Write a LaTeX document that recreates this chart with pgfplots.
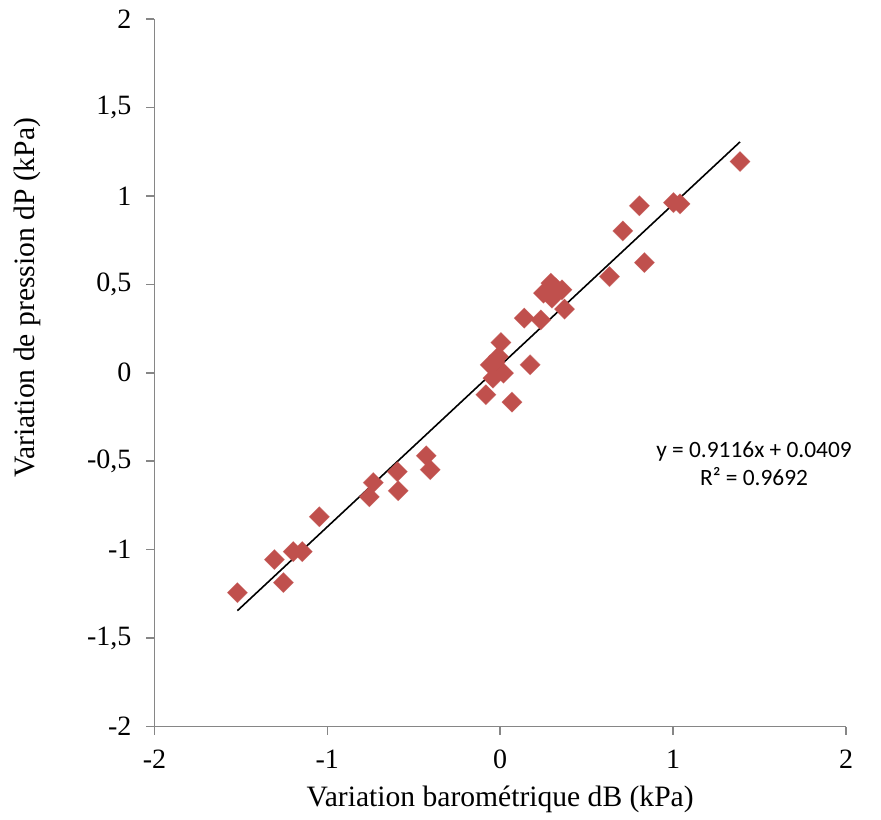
\documentclass[border=0pt]{standalone}
\usepackage{fontspec}
\setmainfont{Liberation Serif}
\newfontfamily\calibri{Carlito}
\usepackage{pgfplots}
\pgfplotsset{compat=1.18}
\definecolor{excelred}{HTML}{C0504D}
\definecolor{axgray}{HTML}{868686}
\begin{document}
\begin{tikzpicture}
\begin{axis}[
  name=ax,
  scale only axis,
  width=346pt, height=354pt,
  xmin=-2, xmax=2, ymin=-2, ymax=2,
  xtick={-2,-1,0,1,2},
  ytick={-2,-1.5,-1,-0.5,0,0.5,1,1.5,2},
  axis x line*=bottom, axis y line*=left,
  axis line style={axgray, line width=0.75pt, -},
  tick style={axgray, line width=0.75pt},
  tick align=outside,
  major tick length=4pt,
  /pgf/number format/assume math mode=true,
  /pgf/number format/use comma,
  ticklabel style={font=\fontsize{14}{16}\selectfont},
  xticklabel style={yshift=-4pt},
  yticklabel style={xshift=-4pt},
  xlabel={Variation barométrique dB (kPa)},
  ylabel={Variation de pression dP (kPa)},
  label style={font=\fontsize{14.8}{17}\selectfont},
  xlabel style={at={(axis description cs:0.5,-0.103)}, anchor=center},
  ylabel style={at={(axis description cs:-0.183,0.606)}, anchor=center, rotate=0},
  clip=false,
]
\addplot[only marks, mark=square*, mark size=3.5pt,
  mark options={rotate=45, fill=excelred, draw=excelred, draw opacity=0.6}] coordinates {
(-1.520,-1.243)
(-1.306,-1.056)
(-1.254,-1.186)
(-1.197,-1.011)
(-1.145,-1.011)
(-1.046,-0.814)
(-0.757,-0.701)
(-0.734,-0.621)
(-0.595,-0.559)
(-0.590,-0.667)
(-0.428,-0.469)
(-0.405,-0.548)
(-0.083,-0.124)
(-0.058,0.045)
(-0.042,-0.030)
(-0.029,0.060)
(-0.010,0.092)
(0.004,0.171)
(0.019,-0.002)
(0.068,-0.166)
(0.173,0.045)
(0.139,0.309)
(0.235,0.299)
(0.250,0.450)
(0.293,0.507)
(0.299,0.422)
(0.320,0.480)
(0.357,0.469)
(0.372,0.360)
(0.632,0.544)
(0.834,0.623)
(0.709,0.802)
(0.805,0.944)
(1.002,0.962)
(1.040,0.955)
(1.387,1.194)
};
\addplot[black, line width=0.8pt, no marks] coordinates {(-1.520,-1.3447) (1.387,1.3053)};
\node[font=\calibri\fontsize{11.7}{14}\selectfont, align=center, anchor=center] at (axis cs:1.468,-0.514) {y = 0.9116x + 0.0409\\R² = 0.9692};
\end{axis}
\path (ax.south west) ++(-77.25pt,-44.5pt) coordinate (bbsw);
\path (ax.north east) ++(17.5pt,9.5pt) coordinate (bbne);
\useasboundingbox (bbsw) rectangle (bbne);
\end{tikzpicture}
\end{document}
